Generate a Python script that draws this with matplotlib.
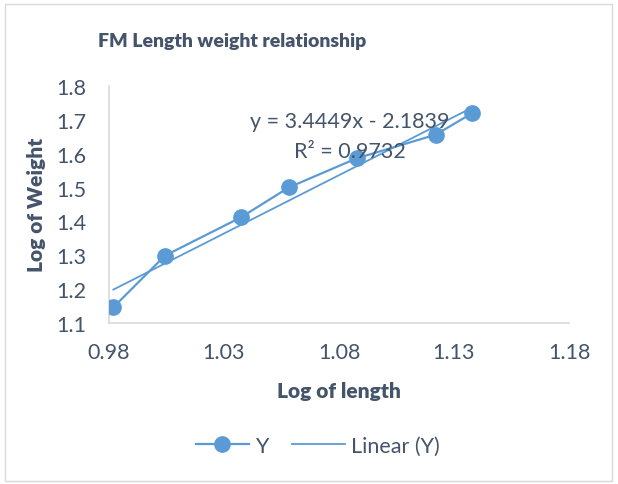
import matplotlib
matplotlib.use("Agg")
import matplotlib.pyplot as plt
from matplotlib.lines import Line2D
from matplotlib.patches import Rectangle
import numpy as np

log_length = [0.9819, 1.0043, 1.0374, 1.0583, 1.0877, 1.1220, 1.1380]
log_weight = [1.1464, 1.2988, 1.4122, 1.5008, 1.5864, 1.6561, 1.7202]
slope = 3.4449
intercept = -2.1839
r_squared = 0.9732
x_ticks = [0.98, 1.03, 1.08, 1.13, 1.18]
y_ticks = [1.1, 1.2, 1.3, 1.4, 1.5, 1.6, 1.7, 1.8]
title = "FM Length weight relationship"
x_label = "Log of length"
y_label = "Log of Weight"

BLUE = "#5B9BD5"
TXT = "#44546A"
GRAY = "#D9D9D9"
plt.rcParams['font.family'] = ['Lato', 'DejaVu Sans']

W, H = 618, 485
fig = plt.figure(figsize=(W / 100, H / 100), dpi=100)
fig.patches.append(Rectangle((5 / W, 1 - 482 / H), 607 / W, 477 / H, transform=fig.transFigure,
                             fill=False, edgecolor=GRAY, linewidth=1.0))
ax = fig.add_axes([109 / W, 1 - 324 / H, 460 / W, 237 / H])

xs = np.array([min(log_length), max(log_length)])
ax.plot(xs, slope * xs + intercept, color=BLUE, linewidth=1.3, zorder=2)
ax.plot(log_length, log_weight, color=BLUE, linewidth=1.6, marker='o', markersize=11,
        markerfacecolor=BLUE, markeredgecolor=BLUE, zorder=3)

ax.set_xlim(0.98, 1.18)
ax.set_ylim(1.1, 1.8)
ax.set_xticks(x_ticks)
ax.set_xticklabels([f"{v:.2f}" for v in x_ticks])
ax.set_yticks(y_ticks)
ax.set_yticklabels([f"{v:.1f}" for v in y_ticks])
ax.tick_params(length=0, labelsize=15.5, colors=TXT)
ax.tick_params(axis='x', pad=14)
ax.tick_params(axis='y', pad=16)
for s in ['top', 'right']:
    ax.spines[s].set_visible(False)
for s in ['left', 'bottom']:
    ax.spines[s].set_color(GRAY)
    ax.spines[s].set_linewidth(1.2)

ax.text(350 / W, 1 - 122 / H, f"y = {slope}x - {abs(intercept)}", transform=fig.transFigure,
        ha='center', va='center', fontsize=15.5, color=TXT)
ax.text(350 / W, 1 - 152 / H, f"R² = {r_squared}", transform=fig.transFigure,
        ha='center', va='center', fontsize=15.5, color=TXT)

fig.text(232 / W, 1 - 41 / H, title, ha='center', va='center', fontsize=14,
         fontweight='heavy', color=TXT)
fig.text(339 / W, 1 - 392 / H, x_label, ha='center', va='center', fontsize=15,
         fontweight='heavy', color=TXT)
fig.text(36 / W, 1 - 205 / H, y_label, ha='center', va='center', fontsize=15,
         fontweight='heavy', color=TXT, rotation=90)

handles = [Line2D([], [], color=BLUE, linewidth=1.6, marker='o', markersize=11),
           Line2D([], [], color=BLUE, linewidth=1.3)]
fig.legend(handles, ["Y", "Linear (Y)"], loc='center', bbox_to_anchor=(318 / W, 1 - 447 / H),
           ncol=2, frameon=False, fontsize=15.5, labelcolor=TXT, handlelength=2.45,
           handletextpad=0.3, columnspacing=1.1)

fig.savefig("out.png", dpi=100)
